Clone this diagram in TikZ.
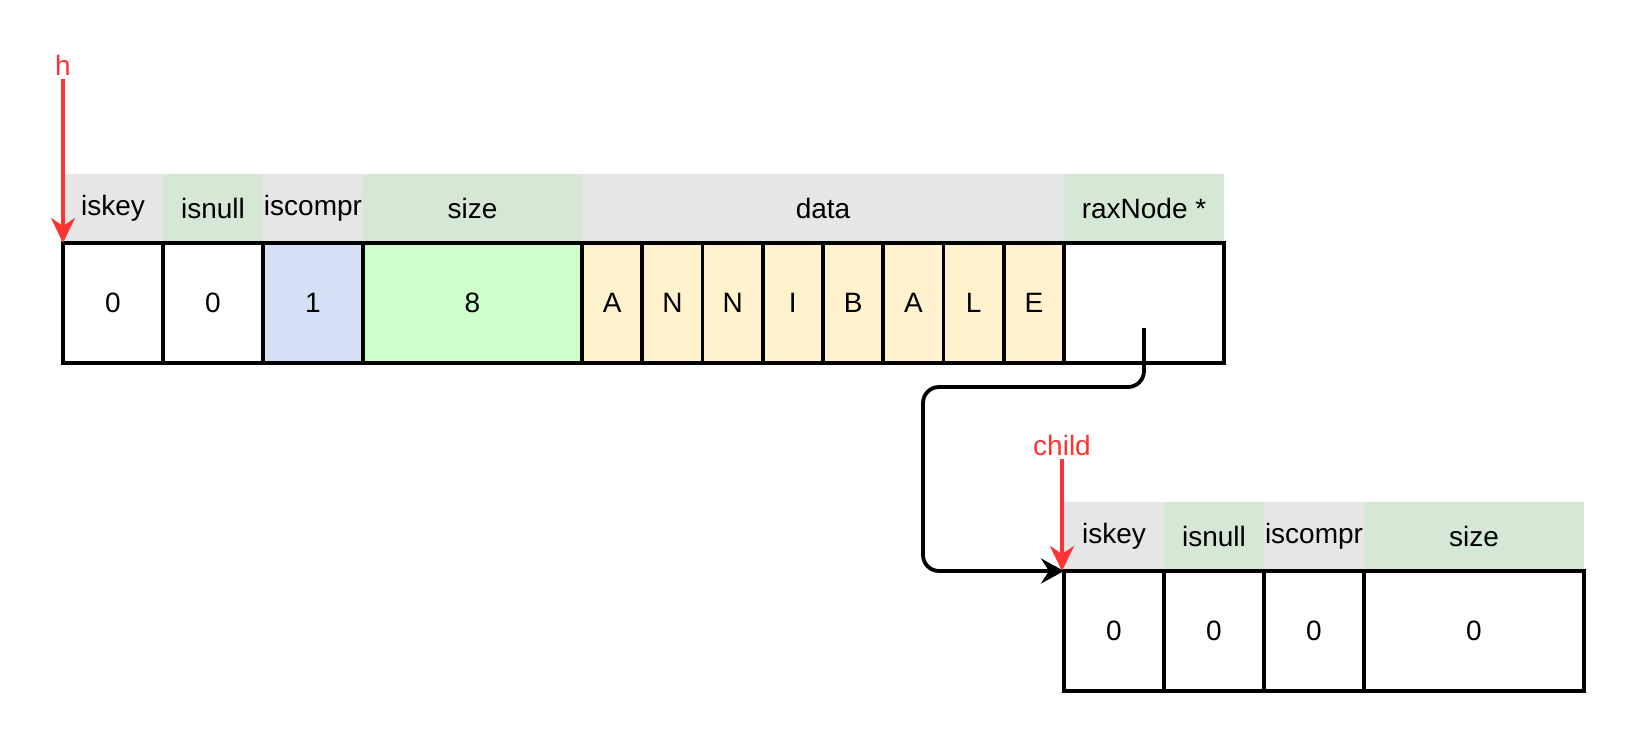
\documentclass[tikz,border=0pt]{standalone}
\usepackage{fontspec}
\setmainfont{Liberation Sans}
\usetikzlibrary{arrows.meta,backgrounds}

\definecolor{hdrgray}{HTML}{E6E6E6}
\definecolor{hdrgreen}{HTML}{D5E8D4}
\definecolor{cellblue}{HTML}{D4E1F5}
\definecolor{cellgreen}{HTML}{CCFFCC}
\definecolor{cellyellow}{HTML}{FFF2CC}
\definecolor{ptrred}{HTML}{FF3333}
\newcommand{\cellfont}{\fontsize{28}{33}\selectfont}

\begin{document}
\begin{tikzpicture}[x=1pt, y=-1pt,
    cell/.style={draw, line width=3.8pt, anchor=north west, minimum height=120pt, inner sep=0pt, outer sep=0pt, font=\cellfont},
    head/.style={anchor=south west, minimum height=69pt, inner sep=0pt, outer sep=0pt, font=\cellfont},
    lbl/.style={text=ptrred, inner sep=4pt, font=\cellfont},
    arr/.style={-{Stealth[length=23pt, width=25pt, inset=8pt]}, line width=3.8pt, rounded corners=16pt},
    ptr/.style={-{Stealth[length=25pt, width=24pt, inset=8pt]}, line width=3.8pt, draw=ptrred}
]
\useasboundingbox (0,0) rectangle (1626,734);

% nodo compresso
\node[cell, minimum width=100pt] (a1) at (63,243) {0};
\node[cell, minimum width=100pt] (a2) at (a1.north east) {0};
\node[cell, minimum width=100pt, fill=cellblue] (a3) at (a2.north east) {1};
\node[cell, minimum width=219pt, fill=cellgreen] (a4) at (a3.north east) {8};
\foreach \c [count=\i] in {A,N,N,I,B,A,L,E}
  \node[cell, minimum width=60.25pt, fill=cellyellow] (d\i) at ({582+60.25*(\i-1)},243) {\c};
\node[cell, minimum width=160pt] (rax) at (d8.north east) {};

% nodo figlio
\node[cell, minimum width=100pt] (b1) at (1064,571) {0};
\node[cell, minimum width=100pt] (b2) at (b1.north east) {0};
\node[cell, minimum width=100pt] (b3) at (b2.north east) {0};
\node[cell, minimum width=220pt] (b4) at (b3.north east) {0};

\begin{scope}[on background layer]
\node[head, fill=hdrgray, minimum width=100pt] (ha1) at (a1.north west) {iskey};
\node[head, fill=hdrgreen, minimum width=100pt] (ha2) at (a2.north west) {isnull};
\node[head, fill=hdrgray, minimum width=100pt] (ha3) at (a3.north west) {iscompr};
\node[head, fill=hdrgreen, minimum width=219pt] (ha4) at (a4.north west) {size};
\node[head, fill=hdrgray, minimum width=482pt] (hdata) at (d1.north west) {data};
\node[head, fill=hdrgreen, minimum width=160pt] (hrax) at (rax.north west) {raxNode *};

\node[head, fill=hdrgray, minimum width=100pt] (hb1) at (b1.north west) {iskey};
\node[head, fill=hdrgreen, minimum width=100pt] (hb2) at (b2.north west) {isnull};
\node[head, fill=hdrgray, minimum width=100pt] (hb3) at (b3.north west) {iscompr};
\node[head, fill=hdrgreen, minimum width=220pt] (hb4) at (b4.north west) {size};
\end{scope}

% puntatori
\node[lbl] (hl) at (63,65) {h};
\node[lbl] (cl) at (1062,445) {child};
\draw[ptr] (hl.south) -- (hl.south |- a1.north west);
\draw[ptr] (cl.south) -- (cl.south |- b1.north west);

\draw[arr] ([yshift=-25pt]rax.center) |- (923,387) |- (b1.north west);
\end{tikzpicture}
\end{document}
